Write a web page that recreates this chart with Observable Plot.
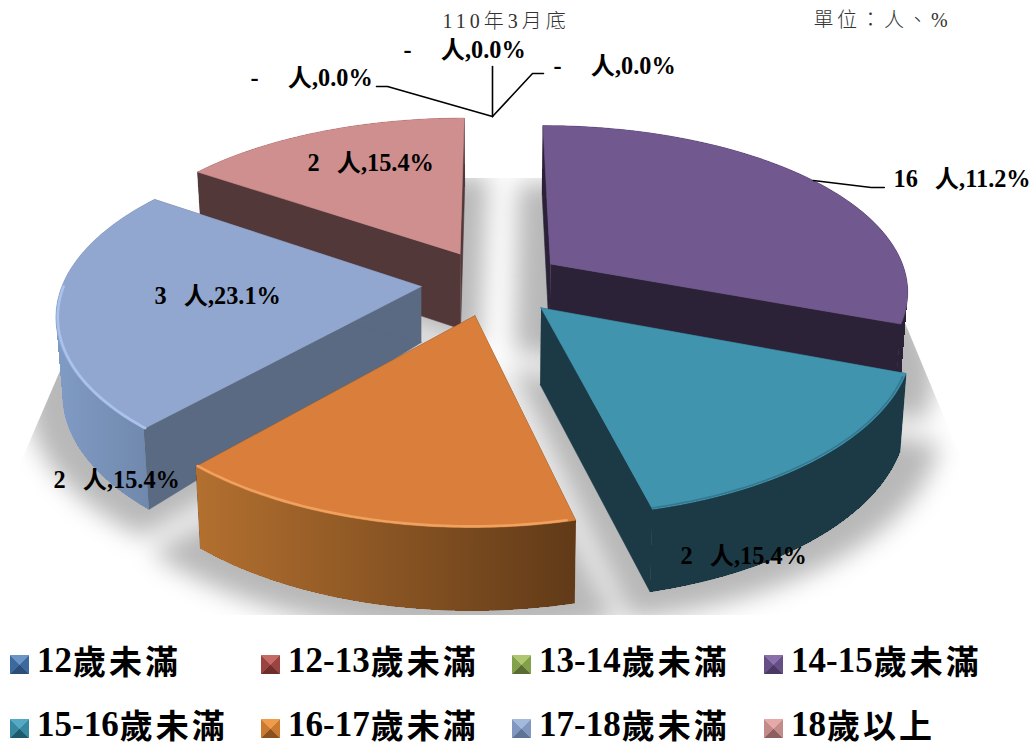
<!DOCTYPE html>
<html><head><meta charset="utf-8">
<script src="https://cdn.jsdelivr.net/npm/d3@7"></script>
<script src="https://cdn.jsdelivr.net/npm/@observablehq/plot@0.6"></script>
<style>
html,body{margin:0;padding:0;background:#fff}
#wrap{position:relative;width:1035px;height:744px;overflow:hidden}
.lg{position:absolute;display:flex;align-items:center;font:bold 35px "Liberation Serif","Noto Sans CJK TC",serif;color:#000;white-space:pre;line-height:32px;height:32px}
.lg i{display:block;width:19px;height:19px;margin-right:8px;flex:none;position:relative;top:3px}
.lg span{letter-spacing:3px;font-size:33px;margin-left:1px;line-height:32px;position:relative;top:2px}
</style></head><body><div id="wrap"></div>
<script>
// ---- data ----
const categories = ["12歲未滿","12-13歲未滿","13-14歲未滿","14-15歲未滿","15-16歲未滿","16-17歲未滿","17-18歲未滿","18歲以上"];
// the wedge sizes as drawn (the printed label of the 14-15 wedge disagrees with its size in the source)
const wedgeCounts = [0,0,0,4,2,2,3,2];
const labelCounts = ["-","-","-","16","2","2","3","2"];
const labelPercents = ["0.0","0.0","0.0","11.2","15.4","15.4","23.1","15.4"];
const topColors  = ["#4f81bd","#c0504d","#9bbb59","#71588f","#4194ae","#d97f3b","#92a7cf","#cf8f8f"];
const sideColors = ["#2c4a6e","#6e2e2c","#5a6c33","#2c2238","#1b3a46","#633b18","#5a6a82","#53383a"];
const legendColors = [["#6d94c4","#3d6a9e","#2c4d75"],["#c46b68","#9a4442","#6e2e2c"],["#aec770","#83a04a","#5a6c33"],["#8a70aa","#664f84","#4a3963"],["#55a9c2","#38899f","#1f5a6c"],["#f09a4c","#c97a30","#8a5020"],["#a5b9dc","#8197bf","#5f7396"],["#e5a9a8","#c28b8a","#8d5f5e"]];
const title = "110年3月底", unit = "單位：人、%";

// ---- pie projection: unit pie seen in perspective ----
const cx=492, cy=282, Rx=358, Ry=166, persp=.15, perspY=.16, explode=.2, shrink=.985;
const depth = Y => 76 + 6*Y;
const total = d3.sum(wedgeCounts);
function project(X,Y,z){
  const w = 1 - persp*Y, wy = 1 - perspY*Y, s = z ? shrink : 1;
  return {x: cx + s*Rx*X/w, y: cy + Ry*Y/wy + (z ? depth(Y) : 0)};
}
const dirOf = a => [Math.sin(a), -Math.cos(a)];
let acc=0;
const wedges = wedgeCounts.map((v,i)=>{
  const a0=acc/total*2*Math.PI; acc+=v; const a1=acc/total*2*Math.PI;
  const mid=(a0+a1)/2, [ox,oy]=dirOf(mid);
  const at=(a,r,z)=>{const [dx,dy]=dirOf(a);return project(explode*ox+r*dx, explode*oy+r*dy, z);};
  return {i,v,a0,a1,mid,at};
});
const arc=(w,r,z,from=w.a0,to=w.a1)=>d3.range(0,61).map(k=>w.at(from+(to-from)*k/60,r,z));

// ---- marks ----
const poly=(pts,fill,extra={})=>Plot.line(pts,{x:"x",y:"y",fill,stroke:fill,strokeWidth:.6,...extra});
const wedgeOrder=[7,3,6,4,5];              // back to front
const apexDepthOverride={6:56};            // the 17-18 wedge's inner wall is shorter in the source

const defs=()=>{
  const d=document.createElementNS("http://www.w3.org/2000/svg","defs");
  d.innerHTML=`
  <clipPath id="floorClip"><polygon points="143,178 845,178 1026,615 -45,615"/></clipPath>
  <linearGradient id="wall5" gradientUnits="userSpaceOnUse" x1="195" x2="575" y1="0" y2="0"><stop offset="0" stop-color="#b3702f"/><stop offset="1" stop-color="#613a18"/></linearGradient>
  <linearGradient id="wall6" gradientUnits="userSpaceOnUse" x1="60" x2="150" y1="0" y2="0"><stop offset="0" stop-color="#7f9ac4"/><stop offset="1" stop-color="#7088ab"/></linearGradient>`;
  return d;
};

const marks=[defs];
// floor shadow: each wedge's bottom, grown a little, blurred together and clipped to a floor trapezoid
const shadowRows=[];
for(const j of wedgeOrder){
  const w=wedges[j], spread=.07;
  const apex=w.at(w.mid,-.12,1);
  [apex,...arc(w,1.09,1,w.a0-spread,w.a1+spread),apex].forEach(p=>shadowRows.push({...p,z:j}));
}
marks.push(Plot.line(shadowRows,{x:"x",y:"y",z:"z",fill:"#b8b8b8",stroke:"#b8b8b8",ariaDescription:"floor-shadow"}));

for(const j of wedgeOrder){
  const w=wedges[j], A=w.at(0,0,0);
  const Az=apexDepthOverride[j]!=null?{x:A.x,y:A.y+apexDepthOverride[j]}:w.at(0,0,1);
  const side=sideColors[j];
  const P=a=>w.at(a,1,0), Q=a=>w.at(a,1,1);
  // radial walls
  marks.push(poly([A,P(w.a0),Q(w.a0),Az],side));
  marks.push(poly([A,P(w.a1),Q(w.a1),Az],side));
  // outer wall: crisp quads close the silhouette, a ring on top smooths it
  const wallFill=j===5?"url(#wall5)":j===6?"url(#wall6)":side;
  const topArc=arc(w,1,0), botArc=arc(w,1,1), rows=[];
  d3.range(60).forEach(k=>[topArc[k],topArc[k+1],botArc[k+1],botArc[k]].forEach(p=>rows.push({...p,q:k})));
  marks.push(Plot.line(rows,{x:"x",y:"y",z:"q",fill:wallFill,stroke:"none",shapeRendering:"crispEdges"}));
  marks.push(Plot.line([...topArc,...botArc.slice().reverse()],{x:"x",y:"y",fill:wallFill,stroke:"none"}));
  // top face
  marks.push(poly([A,...topArc,A],topColors[j]));
}
// bevel highlights along the front rims
const rims=[[5,"#f0a260",2.4,wedges[5].a1,wedges[5].a0+.02,1],[6,"#a9c3ec",2.6,wedges[6].a0,Math.PI*1.5,1],[4,"#2a667c",1.6,wedges[4].a0+.02,wedges[4].a1,.6]];
for(const [j,c,sw,from,to,op] of rims){
  marks.push(Plot.line(arc(wedges[j],.995,0,from,to),{x:"x",y:"y",stroke:c,strokeWidth:sw,strokeOpacity:op,ariaDescription:"rim"}));
}
// leader lines, anchored on the pie
const zeroAnchor=wedges[0].at(0,.99,0);
const purpleAnchor=wedges[3].at(wedges[3].mid,1,0);
const leaderBends=[
  [zeroAnchor,[[-105,-30],[-116,-30]]],
  [zeroAnchor,[[0,-50]]],
  [zeroAnchor,[[40,-43],[51,-43]]],
  [purpleAnchor,[[58,7],[71,7]]]
];
for(const [a,b] of leaderBends){
  marks.push(Plot.line([a,...b.map(([dx,dy])=>({x:a.x+dx,y:a.y+dy}))],{x:"x",y:"y",stroke:"#000",strokeWidth:1.6}));
}
// labels placed in the frame
const labelFont={fontFamily:'"Liberation Serif","Noto Sans CJK TC",serif',fontWeight:"bold",fontSize:24.3,fill:"#000",textAnchor:"start",lineAnchor:"middle",frameAnchor:"top-left"};
const labelSpots=[[250,78],[403,50],[553,66],[893,179],[680,556],[53,480],[154,296],[307,163]];
labelCounts.forEach((n,i)=>{
  const gap=n==="-"?"    \u2009":"  \u2009";
  marks.push(Plot.text([`${n}${gap}人,${labelPercents[i]}%`],{text:d=>d,dx:labelSpots[i][0],dy:labelSpots[i][1],...labelFont}));
});
const thin={fontFamily:'"Liberation Serif","Noto Sans CJK TC",serif',fontWeight:300,fontSize:20,fill:"#333",lineAnchor:"middle",frameAnchor:"top-left",textAnchor:"start",ariaDescription:"thin-text"};
marks.push(Plot.text([title],{text:d=>d,dx:442,dy:21,...thin}));
marks.push(Plot.text([unit],{text:d=>d,dx:813,dy:20,...thin}));

const chart=Plot.plot({width:1035,height:615,margin:0,
  x:{domain:[0,1035],range:[0,1035],axis:null},
  y:{domain:[0,615],range:[0,615],axis:null},
  style:{background:"#fff",overflow:"hidden"},
  marks});
chart.querySelectorAll('g[aria-description="floor-shadow"]').forEach(g=>{
  g.style.filter="blur(12px)";
  const clip=document.createElementNS("http://www.w3.org/2000/svg","g");
  clip.setAttribute("clip-path","url(#floorClip)");
  g.parentNode.insertBefore(clip,g);
  clip.appendChild(g);
});
chart.querySelectorAll('g[aria-description="rim"]').forEach(g=>{g.style.filter="blur(.7px)";});
chart.querySelectorAll('g[aria-description="thin-text"]').forEach((g,i)=>{g.style.letterSpacing=(i?3.5:4)+"px";});
const wrap=document.getElementById("wrap");
wrap.appendChild(chart);

// ---- legend below the svg ----
const colX=[10,261,512,764], rowY=[645,709];
categories.forEach((c,i)=>{
  const el=document.createElement("div");el.className="lg";
  el.style.left=colX[i%4]+"px";el.style.top=rowY[Math.floor(i/4)]+"px";
  const [t,m,b]=legendColors[i];
  const sw=document.createElement("i");
  sw.style.background=`conic-gradient(from -45deg, ${t} 0 25%, ${m} 25% 50%, ${b} 50% 75%, ${m} 75%)`;
  const parts=c.match(/^([\d-]+)(.*)$/);
  const s=document.createElement("span");s.textContent=parts[2];
  el.append(sw,parts[1],s);
  wrap.appendChild(el);
});
</script></body></html>
